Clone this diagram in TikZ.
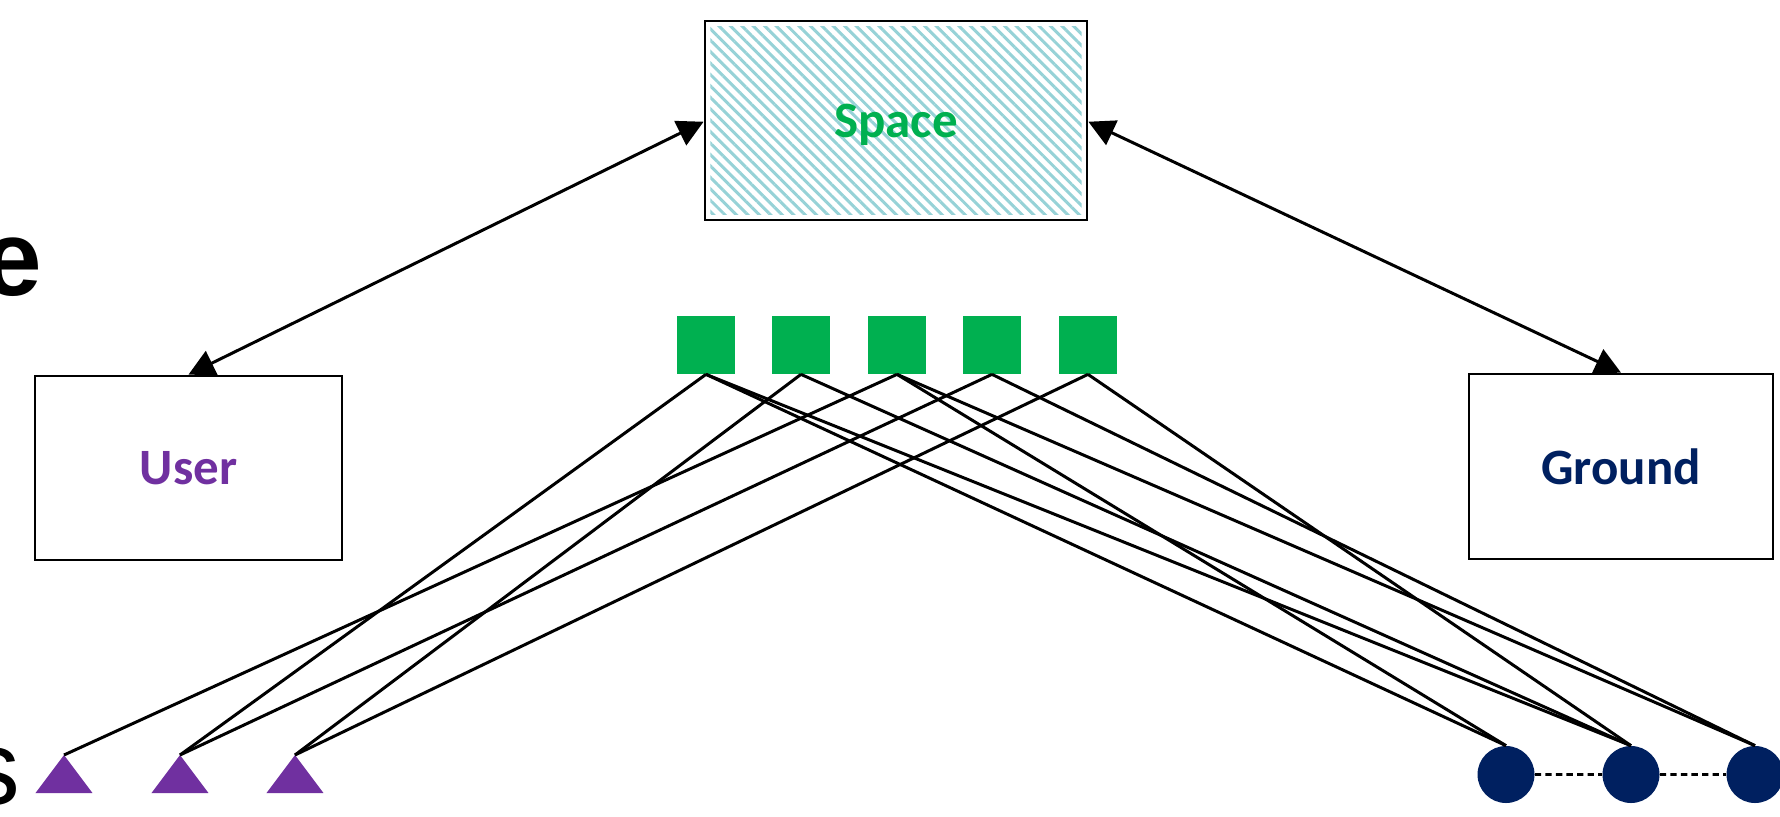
\documentclass[tikz,border=0pt]{standalone}
\usepackage{fontspec}
\setmainfont{Carlito}
\newfontfamily\arialfont{Liberation Sans}
\usetikzlibrary{arrows.meta,patterns.meta}
\definecolor{spacegreen}{RGB}{0,176,80}
\definecolor{userpurple}{RGB}{112,48,160}
\definecolor{groundnavy}{RGB}{0,32,96}
\definecolor{hatchteal}{RGB}{150,210,215}

\begin{document}
\begin{tikzpicture}[scale=0.2]
\tikzstyle{every node}+=[inner sep=0pt]
\tikzstyle{box}=[draw=black, line width=1.6pt, fill=white, text depth=0pt, font=\bfseries\fontsize{29}{35}\selectfont]
\tikzstyle{hatched}=[path picture={\fill [pattern={Lines[angle=-45,distance=4.6pt,line width=1.7pt]}, pattern color=hatchteal] ([xshift=3pt,yshift=-3pt]path picture bounding box.north west) rectangle ([xshift=-3pt,yshift=3pt]path picture bounding box.south east);}]
\tikzstyle{sat}=[fill=spacegreen, minimum size=1.16cm]
\tikzstyle{term}=[circle, fill=groundnavy, minimum size=1.14cm]
\tikzstyle{link}=[black, line width=1.7pt]
\tikzstyle{both}=[black, line width=1.7pt, {Triangle[length=14.8pt,width=15.2pt]}-{Triangle[length=14.8pt,width=15.2pt]}]
\tikzstyle{dotline}=[black, line width=1.6pt, dash pattern=on 3.6pt off 2.4pt]
\useasboundingbox (0,0) rectangle (178,-81.6);
% cut-off words at the left edge
\node [anchor=base east] (cute) at (4.2,-29.55) {\arialfont\bfseries\fontsize{61}{66}\selectfont e};
\node [anchor=base east] (cuts) at (2.1,-80.4) {\arialfont\fontsize{60}{66}\selectfont s};
% segments
\node [box, hatched, minimum width=7.64cm, minimum height=3.98cm, text=spacegreen] (space) at (89.6,-12.05) {Space};
\node [box, minimum width=6.14cm, minimum height=3.68cm, text=userpurple] (user) at (18.85,-46.8) {User};
\node [box, minimum width=6.08cm, minimum height=3.7cm, text=groundnavy] (ground) at (162.1,-46.65) {Ground};
\draw [both] ([yshift=-3.5pt]space.west) -- (user.north);
\draw [both] ([yshift=-3.5pt]space.east) -- (ground.north);
% satellites
\node [sat] (s1) at (70.6,-34.5) {};
\node [sat] (s2) at (80.1,-34.5) {};
\node [sat] (s3) at (89.7,-34.5) {};
\node [sat] (s4) at (99.2,-34.5) {};
\node [sat] (s5) at (108.8,-34.5) {};
% user terminals
\coordinate (t1) at (6.4,-75.5);
\coordinate (t2) at (18.0,-75.5);
\coordinate (t3) at (29.5,-75.5);
\fill [userpurple] (t1) -- ++(-2.85,-3.8) -- ++(5.7,0) -- cycle;
\fill [userpurple] (t2) -- ++(-2.85,-3.8) -- ++(5.7,0) -- cycle;
\fill [userpurple] (t3) -- ++(-2.85,-3.8) -- ++(5.7,0) -- cycle;
% ground stations
\node [term] (c1) at (150.6,-77.45) {};
\node [term] (c2) at (163.1,-77.45) {};
\node [term] (c3) at (175.5,-77.45) {};
\draw [dotline] (c1) -- (c2);
\draw [dotline] (c2) -- (c3);
% links
\draw [link] (s3.south) -- (t1);
\draw [link] (s1.south) -- (t2);
\draw [link] (s4.south) -- (t2);
\draw [link] (s2.south) -- (t3);
\draw [link] (s5.south) -- (t3);
\draw [link] (s1.south) -- (c1.north);
\draw [link] (s1.south) -- (c2.north);
\draw [link] (s2.south) -- (c2.north);
\draw [link] (s3.south) -- (c1.north);
\draw [link] (s3.south) -- (c3.north);
\draw [link] (s4.south) -- (c3.north);
\draw [link] (s5.south) -- (c2.north);
\end{tikzpicture}
\end{document}
